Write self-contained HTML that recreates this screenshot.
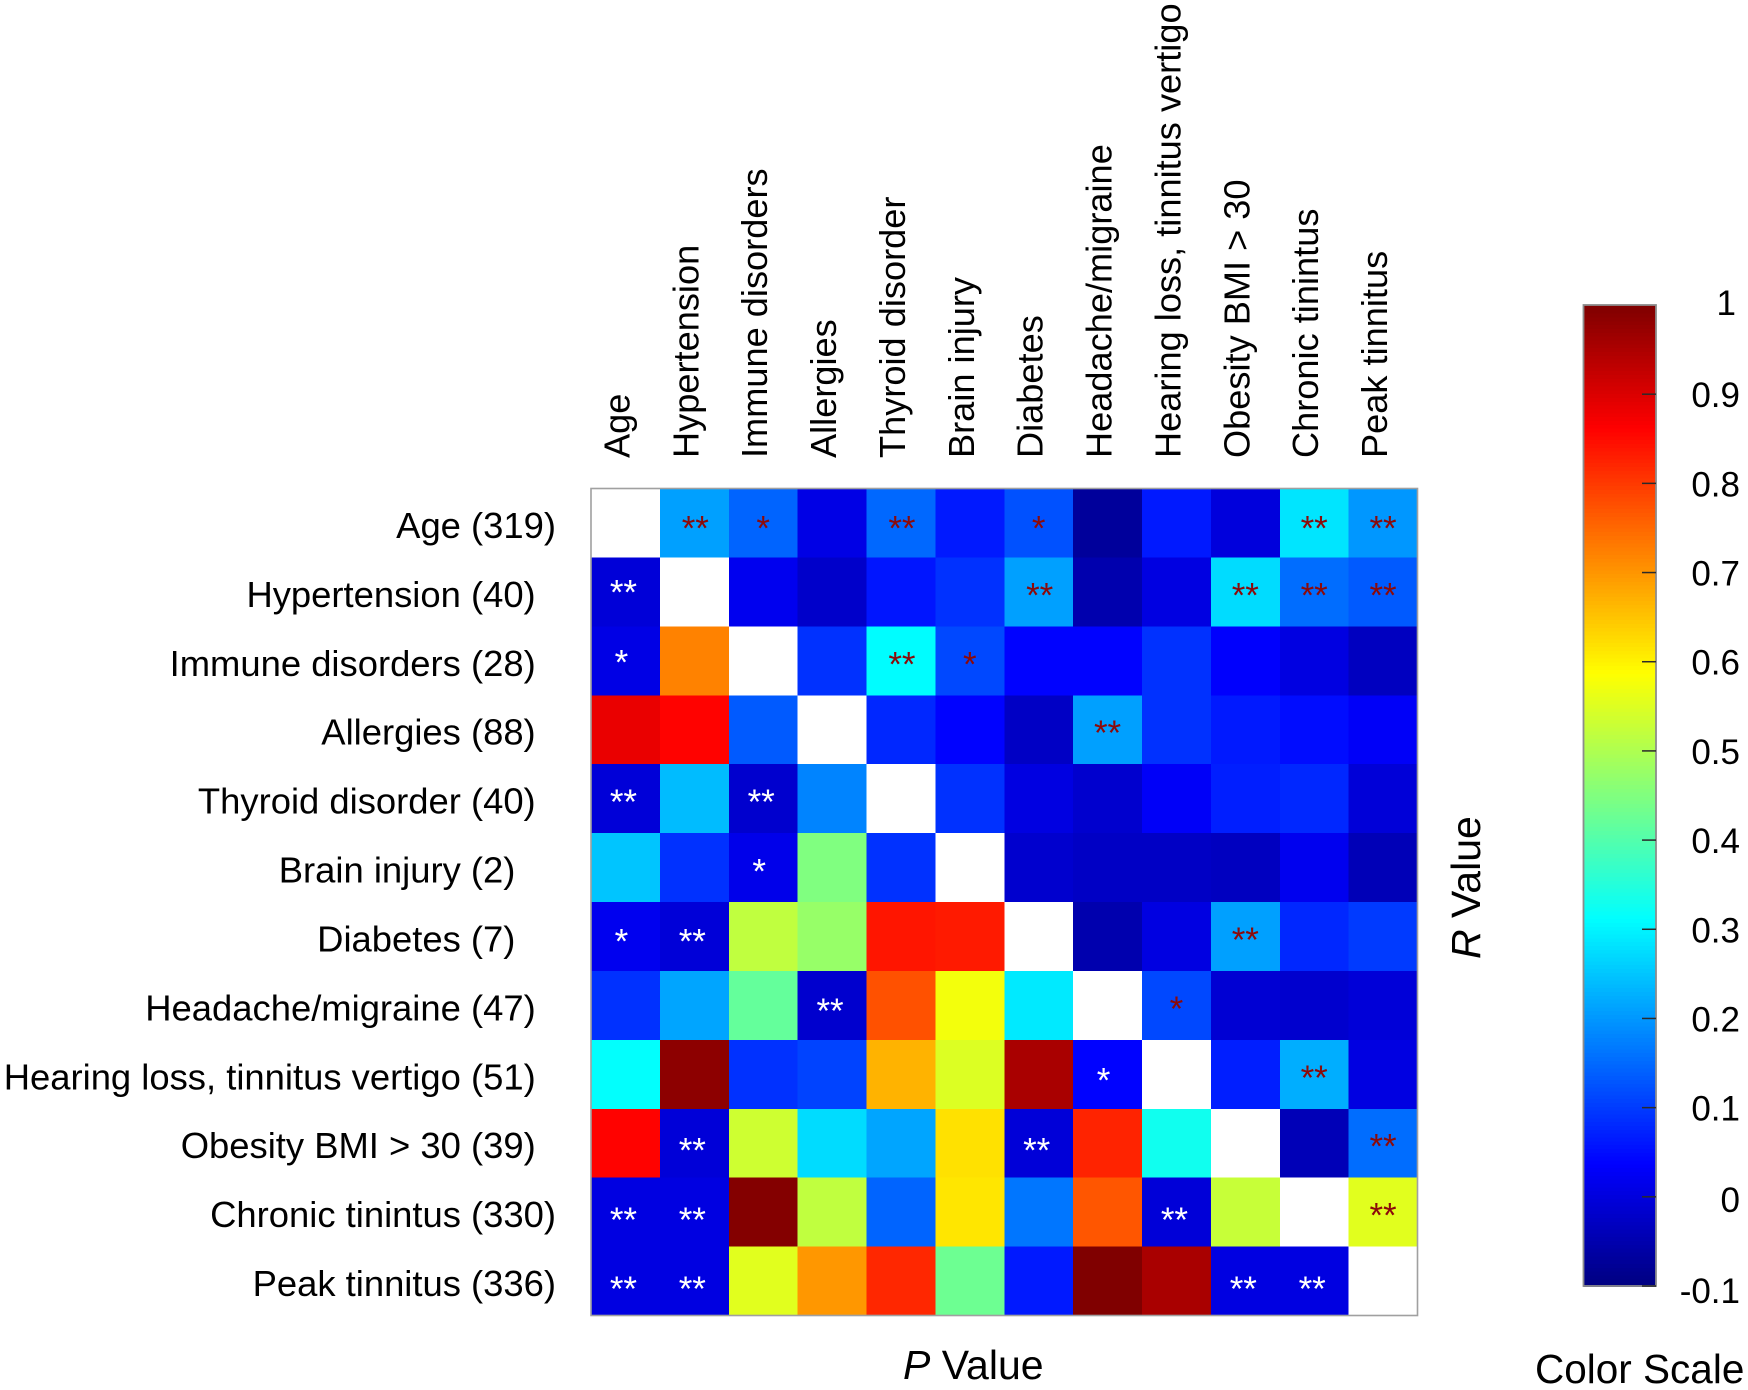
<!DOCTYPE html>
<html lang="en">
<head>
<meta charset="utf-8">
<title>Correlation heatmap</title>
<style>
html,body{margin:0;padding:0;background:#fff;width:1748px;height:1390px;overflow:hidden}
svg{display:block}
text{font-family:"Liberation Sans",Arial,sans-serif;fill:#000}
</style>
</head>
<body>
<svg id="chart" xmlns="http://www.w3.org/2000/svg" width="1748" height="1390" viewBox="0 0 1748 1390">
<rect x="0" y="0" width="1748" height="1390" fill="#fff"/>
<g id="cells" shape-rendering="crispEdges"></g>
<g id="marks"></g>
<rect x="591" y="488.5" width="826.5" height="827" fill="none" stroke="#a0a0a0" stroke-width="1.6"/>
<g id="rowLabels"></g>
<g id="colLabels"></g>
<text x="903" y="1379" font-size="41"><tspan font-style="italic">P</tspan> Value</text>
<text transform="translate(1480 959) rotate(-90)" font-size="41"><tspan font-style="italic">R</tspan> Value</text>
<g id="colorbar" shape-rendering="crispEdges"></g>
<rect x="1583.5" y="305" width="72.5" height="981" fill="none" stroke="#8c8c8c" stroke-width="1.8"/>
<g id="colorTicks"></g>
<text x="1535" y="1383" font-size="40.5">Color Scale</text>
</svg>
<script>
const rowNames = ["Age","Hypertension","Immune disorders","Allergies","Thyroid disorder","Brain injury","Diabetes","Headache/migraine","Hearing loss, tinnitus vertigo","Obesity BMI > 30","Chronic tinintus","Peak tinnitus"];
const rowCounts = [319,40,28,88,40,2,7,47,51,39,330,336];
const colNames = ["Age","Hypertension","Immune disorders","Allergies","Thyroid disorder","Brain injury","Diabetes","Headache/migraine","Hearing loss, tinnitus vertigo","Obesity BMI > 30","Chronic tinintus","Peak tinnitus"];
const rValues = [
 [null,0.21,0.145,0.01,0.15,0.065,0.125,-0.07,0.065,0.0,0.285,0.2],
 [-0.005,null,0.02,-0.02,0.06,0.09,0.21,-0.05,0.005,0.275,0.155,0.135],
 [0.01,0.722,null,0.09,0.31,0.115,0.04,0.04,0.09,0.035,0.005,-0.03],
 [0.885,0.86,0.135,null,0.08,0.04,-0.025,0.21,0.09,0.065,0.05,0.03],
 [-0.005,0.24,-0.015,0.18,null,0.09,0.005,-0.015,0.03,0.07,0.08,-0.005],
 [0.25,0.09,0.015,0.45,0.09,null,-0.015,-0.025,-0.025,-0.03,0.02,-0.04],
 [0.02,-0.005,0.52,0.475,0.84,0.835,null,-0.05,0.005,0.21,0.08,0.1],
 [0.09,0.215,0.42,-0.015,0.775,0.575,0.29,null,0.115,-0.01,-0.015,-0.005],
 [0.315,0.985,0.09,0.11,0.67,0.55,0.955,0.04,null,0.07,0.225,0.005],
 [0.86,-0.005,0.535,0.275,0.215,0.62,-0.005,0.825,0.33,null,-0.04,0.155],
 [0.005,0.005,0.995,0.52,0.145,0.615,0.165,0.77,-0.005,0.527,null,0.555],
 [0.005,0.005,0.555,0.7,0.82,0.43,0.065,1.0,0.955,0.005,0.005,null]
];
const starCounts = [
 [0,2,1,0,2,0,1,0,0,0,2,2],
 [2,0,0,0,0,0,2,0,0,2,2,2],
 [1,0,0,0,2,1,0,0,0,0,0,0],
 [0,0,0,0,0,0,0,2,0,0,0,0],
 [2,0,2,0,0,0,0,0,0,0,0,0],
 [0,0,1,0,0,0,0,0,0,0,0,0],
 [1,2,0,0,0,0,0,0,0,2,0,0],
 [0,0,0,2,0,0,0,0,1,0,0,0],
 [0,0,0,0,0,0,0,1,0,0,2,0],
 [0,2,0,0,0,0,2,0,0,0,0,2],
 [2,2,0,0,0,0,0,0,2,0,0,2],
 [2,2,0,0,0,0,0,0,0,2,2,0]
];
const scaleTicks = [1,0.9,0.8,0.7,0.6,0.5,0.4,0.3,0.2,0.1,0,-0.1];

const NS = "http://www.w3.org/2000/svg";
const scaleMin = -0.1, scaleMax = 1;
const plotLeft = 591, plotTop = 488.5, cellW = 826.5 / 12, cellH = 827 / 12;
const barLeft = 1583.5, barRight = 1656, barTop = 305, barBottom = 1286;

function xBand(c) { return plotLeft + c * cellW; }
function yBand(r) { return plotTop + r * cellH; }
function yScale(v) { return barBottom - (v - scaleMin) / (scaleMax - scaleMin) * (barBottom - barTop); }
function clamp(x) { return Math.max(0, Math.min(1, x)); }
function jet(v) {
  const t = (v - scaleMin) / (scaleMax - scaleMin);
  const r = clamp(Math.min(4 * t - 1.5, -4 * t + 4.5));
  const g = clamp(Math.min(4 * t - 0.5, -4 * t + 3.5));
  const b = clamp(Math.min(4 * t + 0.5, -4 * t + 2.5));
  return "rgb(" + Math.round(r * 255) + "," + Math.round(g * 255) + "," + Math.round(b * 255) + ")";
}
function make(tag, attrs, parent, txt) {
  const el = document.createElementNS(NS, tag);
  for (const k in attrs) el.setAttribute(k, attrs[k]);
  if (txt !== undefined) el.textContent = txt;
  parent.appendChild(el);
  return el;
}

const cellsG = document.getElementById("cells");
const marksG = document.getElementById("marks");
const rowG = document.getElementById("rowLabels");
const colG = document.getElementById("colLabels");
const barG = document.getElementById("colorbar");
const tickG = document.getElementById("colorTicks");

rValues.forEach(function (row, r) {
  row.forEach(function (v, c) {
    const isDiag = v === null;
    const cell = make("rect", {
      x: xBand(c), y: yBand(r), width: cellW + 0.5, height: cellH + 0.5,
      fill: isDiag ? "#fff" : jet(v)
    }, cellsG);
    
    
    const n = starCounts[r][c];
    if (n > 0) {
      const above = r < c;
      const dx = n === 2 ? (above ? 1.5 + (c === 1 || c === 4 || c === 6 ? -0.5 : -1.5) : -2) : (above ? 0 : -4);
      const dy = above ? (r === 0 ? -2.5 : -4.5) : Math.min(0, -8 + 0.8 * r);
      const star = make("text", {
        x: xBand(c) + cellW / 2 + dx,
        y: yBand(r) + cellH / 2 + 20 + dy,
        "text-anchor": "middle",
        "font-size": 35,
        style: "fill:" + (above ? "#8b0a0a" : "#ffffff")
      }, marksG, "*".repeat(n));
      
      
    }
  });
});

rowNames.forEach(function (name, r) {
  const digits = String(rowCounts[r]).length;
  const t = make("text", {
    x: 556 - 20.3 * (3 - digits),
    y: yBand(r) + cellH / 2 + 15,
    "text-anchor": "end",
    "font-size": 36.4
  }, rowG, name + " (" + rowCounts[r] + ")");
  
  
});

colNames.forEach(function (name, c) {
  const t = make("text", {
    transform: "translate(" + (xBand(c) + cellW / 2 + 4) + " 458) rotate(-90)",
    "font-size": 36.2
  }, colG, name);
  
  
});

const barSteps = 256;
for (let i = 0; i < barSteps; i++) {
  const v0 = scaleMin + (scaleMax - scaleMin) * i / barSteps;
  const v1 = scaleMin + (scaleMax - scaleMin) * (i + 1) / barSteps;
  const seg = make("rect", {
    x: barLeft, y: yScale(v1), width: barRight - barLeft, height: yScale(v0) - yScale(v1) + 1,
    fill: jet((v0 + v1) / 2)
  }, barG);
  
  
}

scaleTicks.forEach(function (v) {
  const y = yScale(v);
  if (v !== scaleMax) {
    const tick = make("line", {
      x1: barRight - 14, x2: barRight, y1: y, y2: y,
      stroke: "#2a2a2a", "stroke-width": 1.5
    }, tickG);
    
    
  }
  const off = v === scaleMin ? 17 : (v === scaleMax ? 10 : (v === 0 ? 15 : 13));
  const lab = make("text", {
    x: v === scaleMax ? 1736 : 1740,
    y: y + off,
    "text-anchor": "end",
    "font-size": 35
  }, tickG, String(v));
  
  
});
</script>
</body>
</html>
